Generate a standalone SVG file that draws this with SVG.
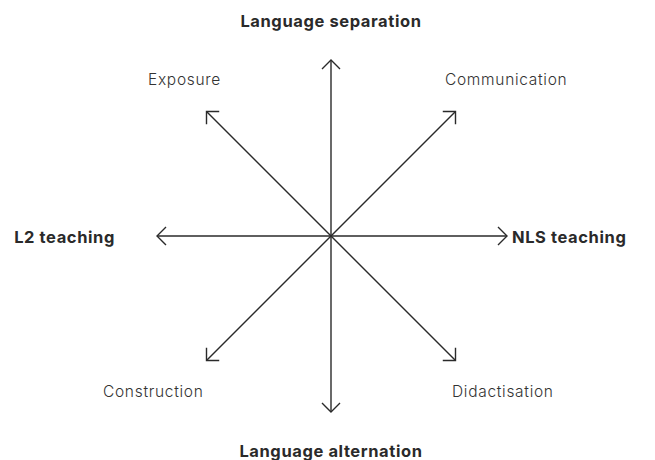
<svg xmlns="http://www.w3.org/2000/svg" width="655" height="460" viewBox="0 0 655 460">
<defs>
<style>
.ax{stroke:#2a2a2a;stroke-width:1.4;fill:none;marker-end:url(#ah)}
text{font-family:Inter,"Liberation Sans",sans-serif;font-size:15.5px;font-weight:300;fill:#333;letter-spacing:0.7px}
.b{font-weight:700;font-size:16.5px;fill:#2a2a2a;letter-spacing:0.6px}
</style>
<marker id="ah" viewBox="-10 -10 20 20" markerWidth="20" markerHeight="20" refX="0" refY="0" orient="auto" markerUnits="userSpaceOnUse">
<path d="M-9,-9 L0,0 L-9,9" fill="none" stroke="#2a2a2a" stroke-width="1.4"/>
</marker>
</defs>
<rect width="655" height="460" fill="#fff"/>
<g id="connectors">
<line class="ax" x1="331" y1="236" x2="331" y2="60"/>
<line class="ax" x1="331" y1="236" x2="331" y2="412"/>
<line class="ax" x1="331" y1="236" x2="157" y2="236"/>
<line class="ax" x1="331" y1="236" x2="507" y2="236"/>
<line class="ax" x1="331" y1="236" x2="206.5" y2="111.5"/>
<line class="ax" x1="331" y1="236" x2="455.5" y2="111.5"/>
<line class="ax" x1="331" y1="236" x2="206.5" y2="360.5"/>
<line class="ax" x1="331" y1="236" x2="455.5" y2="360.5"/>
</g>
<g id="lang-sep"><text class="b" x="331" y="27" text-anchor="middle">Language separation</text></g>
<g id="lang-alt"><text class="b" x="331" y="457" text-anchor="middle">Language alternation</text></g>
<g id="l2"><text class="b" x="115" y="243" text-anchor="end">L2 teaching</text></g>
<g id="nls"><text class="b" x="512" y="243">NLS teaching</text></g>
<g id="exposure"><text x="148" y="85">Exposure</text></g>
<g id="communication"><text x="445" y="85">Communication</text></g>
<g id="construction"><text x="103" y="397">Construction</text></g>
<g id="didactisation"><text x="452" y="397">Didactisation</text></g>
</svg>
